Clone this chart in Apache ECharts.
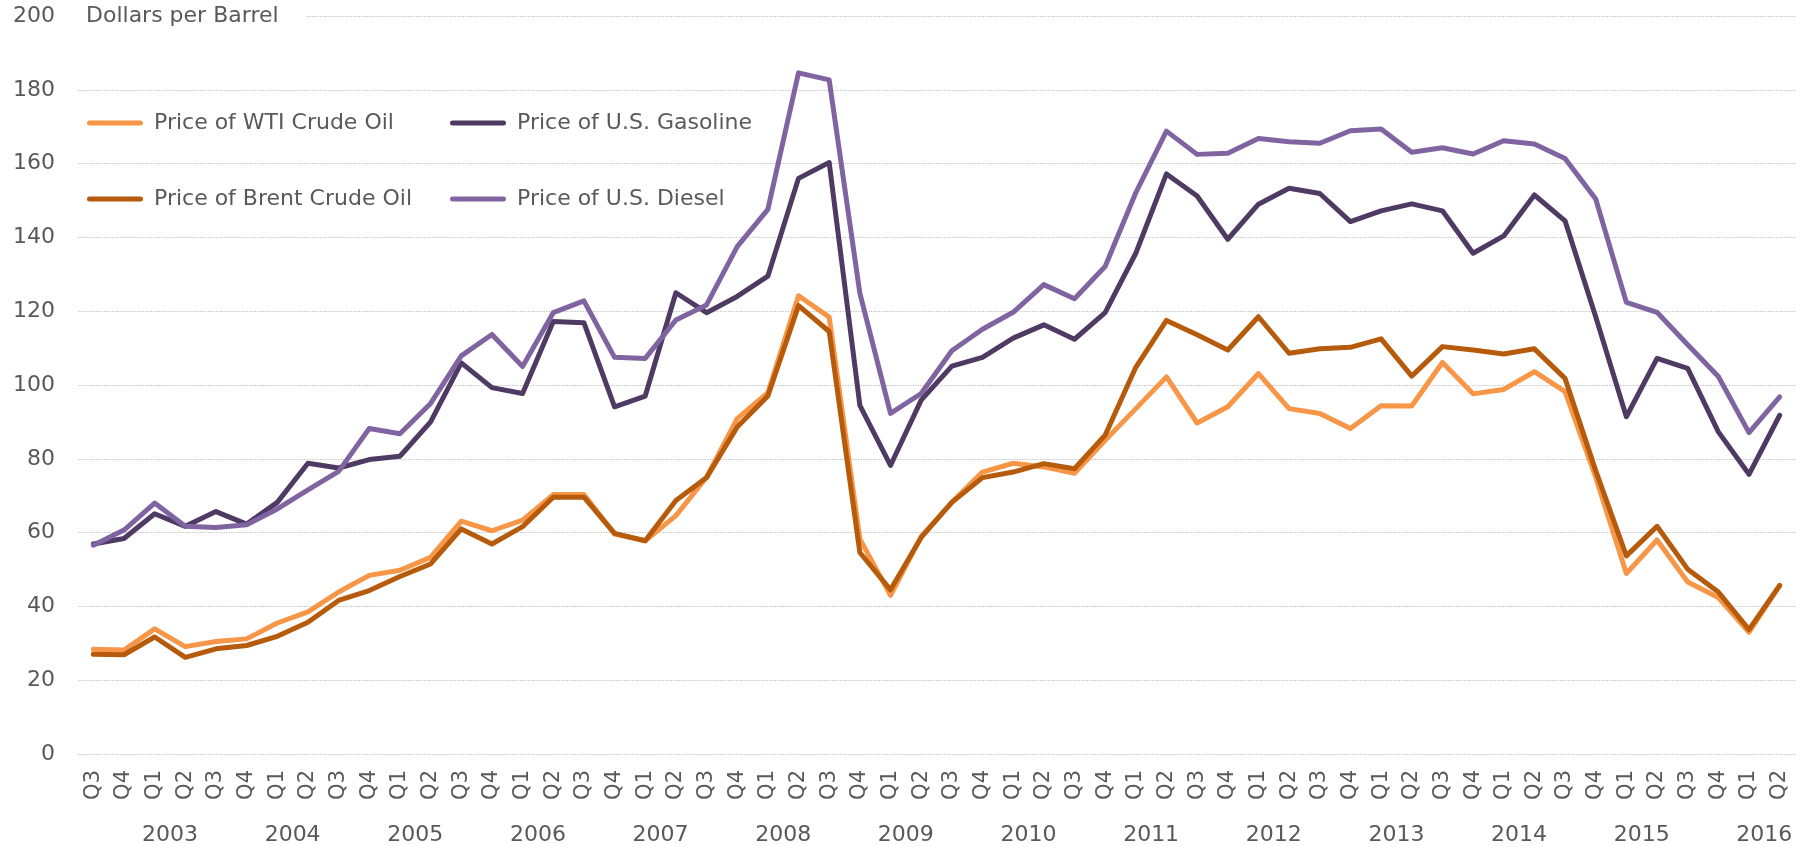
<!DOCTYPE html>
<html lang="en">
<head>
<meta charset="UTF-8">
<title>Oil and fuel prices</title>
<script src="https://cdn.jsdelivr.net/npm/echarts@6/dist/echarts.min.js"></script>
<style>
    html, body { margin: 0; padding: 0; background: #fff; }
    #chart { width: 1808px; height: 847px; }
</style>
</head>
<body>
<div id="chart"></div>
<script>
    // quarter labels, 2002 Q3 .. 2016 Q2
    var quarters = ['Q3', 'Q4',
        'Q1', 'Q2', 'Q3', 'Q4', 'Q1', 'Q2', 'Q3', 'Q4', 'Q1', 'Q2', 'Q3', 'Q4',
        'Q1', 'Q2', 'Q3', 'Q4', 'Q1', 'Q2', 'Q3', 'Q4', 'Q1', 'Q2', 'Q3', 'Q4',
        'Q1', 'Q2', 'Q3', 'Q4', 'Q1', 'Q2', 'Q3', 'Q4', 'Q1', 'Q2', 'Q3', 'Q4',
        'Q1', 'Q2', 'Q3', 'Q4', 'Q1', 'Q2', 'Q3', 'Q4', 'Q1', 'Q2', 'Q3', 'Q4',
        'Q1', 'Q2', 'Q3', 'Q4', 'Q1', 'Q2'];
    var years = [2003, 2004, 2005, 2006, 2007, 2008, 2009, 2010, 2011, 2012, 2013, 2014, 2015, 2016];

    var wti = [28.4, 28.2,
        33.9, 29.1, 30.5, 31.2, 35.5, 38.5, 43.9, 48.4, 49.8, 53.3, 63.1, 60.5,
        63.4, 70.3, 70.3, 59.6, 57.8, 64.6, 75.0, 90.9, 97.9, 124.2, 118.4, 58.3,
        43.0, 58.9, 68.2, 76.4, 78.8, 77.8, 76.1, 85.0, 93.6, 102.2, 89.7, 94.1,
        103.1, 93.6, 92.3, 88.2, 94.4, 94.3, 106.1, 97.6, 98.8, 103.6, 98.2, 75.0,
        48.9, 58.0, 46.6, 42.4, 33.0, 45.6];
    var gasoline = [56.9, 58.4,
        65.1, 61.7, 65.7, 62.3, 68.2, 78.8, 77.5, 79.8, 80.7, 90.0, 106.0, 99.3,
        97.7, 117.2, 116.9, 94.1, 97.0, 125.0, 119.6, 124.0, 129.5, 156.0, 160.3, 94.5,
        78.2, 95.9, 105.1, 107.5, 112.7, 116.3, 112.4, 119.6, 135.7, 157.2, 151.2, 139.5,
        149.0, 153.3, 151.9, 144.3, 147.2, 149.1, 147.2, 135.7, 140.4, 151.5, 144.5, 118.5,
        91.4, 107.2, 104.5, 87.3, 75.8, 91.8];
    var brent = [27.0, 26.9,
        31.7, 26.2, 28.5, 29.4, 31.9, 35.7, 41.6, 44.3, 48.1, 51.5, 61.0, 56.9,
        61.6, 69.6, 69.6, 59.8, 57.8, 68.7, 74.9, 88.6, 97.0, 121.5, 114.5, 54.6,
        44.5, 58.7, 68.2, 74.9, 76.4, 78.7, 77.3, 86.4, 104.8, 117.5, 113.6, 109.5,
        118.5, 108.6, 109.8, 110.2, 112.5, 102.4, 110.4, 109.5, 108.4, 109.8, 101.8, 76.8,
        53.7, 61.7, 50.1, 43.9, 33.7, 45.7];
    var diesel = [56.6, 60.7,
        68.0, 61.7, 61.4, 62.1, 66.4, 71.6, 76.6, 88.2, 86.8, 95.0, 107.9, 113.7,
        105.0, 119.6, 122.8, 107.5, 107.2, 117.6, 121.7, 137.5, 147.6, 184.6, 182.7, 124.9,
        92.3, 97.7, 109.3, 115.1, 119.7, 127.2, 123.4, 132.1, 152.1, 168.8, 162.5, 162.8,
        166.8, 165.9, 165.5, 168.9, 169.4, 163.1, 164.3, 162.6, 166.2, 165.3, 161.4, 150.4,
        122.4, 119.7, 110.9, 102.3, 87.1, 96.8];

    var textColor = '#595959';
    var font = 'DejaVu Sans';
    // thick rounded bar for the legend keys
    var keyIcon = 'path://M2.5,0H53.5A2.5,2.5,0,0,1,53.5,5H2.5A2.5,2.5,0,0,1,2.5,0Z';

    var myChart = echarts.init(document.getElementById('chart'));

    function line(name, data, color) {
        return {
            name: name,
            type: 'line',
            data: data,
            showSymbol: false,
            symbol: 'none',
            color: color,
            itemStyle: { color: color },
            lineStyle: { width: 5, color: color, cap: 'round', join: 'round' }
        };
    }

    function legendAt(name, left, top) {
        return {
            data: [{ name: name, icon: keyIcon }],
            left: left,
            top: top,
            padding: 0,
            itemWidth: 56,
            itemHeight: 5,
            textStyle: { color: textColor, fontSize: 22, fontFamily: font, lineHeight: 26, padding: [0, 0, 0, 6] }
        };
    }

    myChart.setOption({
        backgroundColor: '#fff',
        animation: false,
        title: {
            text: 'Dollars per Barrel',
            left: 78,
            top: 1,
            padding: [2, 28, 2, 8],
            backgroundColor: '#fff',
            textStyle: { color: textColor, fontSize: 22, fontWeight: 'normal', fontFamily: font, lineHeight: 26 }
        },
        legend: [
            legendAt('Price of WTI Crude Oil', 87, 110),
            legendAt('Price of U.S. Gasoline', 450, 110),
            legendAt('Price of Brent Crude Oil', 87, 186),
            legendAt('Price of U.S. Diesel', 450, 186)
        ],
        grid: { left: 78, right: 13, top: 16, bottom: 93, containLabel: false },
        xAxis: [{
            type: 'category',
            data: quarters,
            boundaryGap: true,
            axisLine: { show: false },
            axisTick: { show: false },
            axisLabel: { interval: 0, rotate: 90, margin: 16, color: textColor, fontSize: 21, fontFamily: font }
        }, {
            type: 'value',
            position: 'bottom',
            min: 2002.25,
            max: 2016.25,
            axisLine: { show: false },
            axisTick: { show: false },
            splitLine: { show: false },
            axisLabel: {
                customValues: years,
                margin: 70,
                color: textColor,
                fontSize: 22,
                fontFamily: font,
                formatter: function (v) { return String(v); }
            }
        }],
        yAxis: {
            type: 'value',
            min: 0,
            max: 200,
            interval: 20,
            axisLine: { show: false },
            axisTick: { show: false },
            axisLabel: { margin: 23, color: textColor, fontSize: 22, fontFamily: font },
            splitLine: { lineStyle: { color: '#BFBFBF', type: [1.3, 1.3], width: 1 } }
        },
        series: [
            line('Price of WTI Crude Oil', wti, '#F79646'),
            line('Price of U.S. Gasoline', gasoline, '#4F3A63'),
            line('Price of Brent Crude Oil', brent, '#B65A0B'),
            line('Price of U.S. Diesel', diesel, '#8064A2')
        ]
    });
</script>
</body>
</html>
